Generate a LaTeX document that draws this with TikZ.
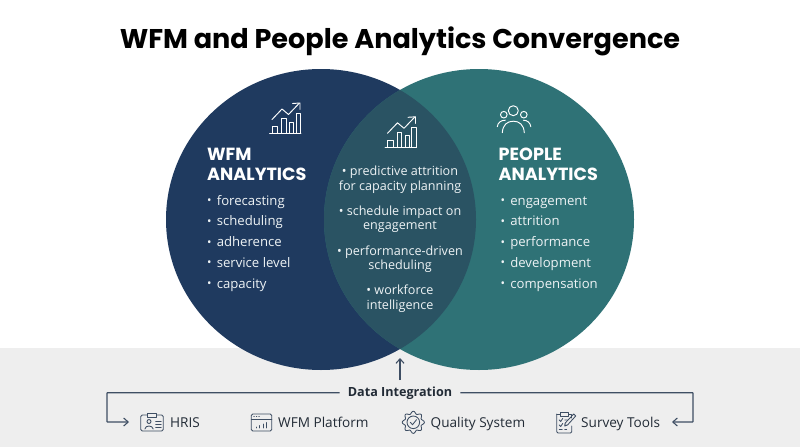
\documentclass[tikz,border=0pt]{standalone}
\usepackage{fontspec}
\usetikzlibrary{arrows.meta}
\setmainfont{Open Sans}
\newfontfamily\headfont{Poppins}
\definecolor{navy}{HTML}{1F3A5F}
\definecolor{teal}{HTML}{2F7276}
\definecolor{lens}{HTML}{2A5363}
\definecolor{band}{HTML}{EEEEEE}
\definecolor{linec}{HTML}{3E4E63}
\definecolor{inkc}{HTML}{222B36}
\definecolor{txtw}{HTML}{EEF3F5}
\newcommand{\bul}[1]{\hbox to 9.6pt{\raisebox{0.6pt}{\scalebox{0.9}{•}}\hss}#1}
\tikzset{
  titletext/.style={anchor=base,inner sep=0,font=\headfont\bfseries\fontsize{27.1}{30}\selectfont,text=black},
  headtext/.style={anchor=base west,inner sep=0,font=\headfont\bfseries\fontsize{17.6}{20}\selectfont,text=white},
  item/.style={anchor=base west,inner sep=0,font=\fontsize{13.15}{16}\selectfont,text=txtw},
  mid/.style={anchor=base,inner sep=0,font=\fontsize{12.6}{16}\selectfont,text=txtw},
  src/.style={anchor=base west,inner sep=0,font=\fontsize{13.6}{16}\selectfont,text=inkc},
  datalabel/.style={anchor=base,inner sep=0,font=\bfseries\fontsize{12.6}{15}\selectfont,text=inkc,fill=band,inner xsep=8pt,inner ysep=2pt},
  wire/.style={draw=linec,line width=1.1pt},
  tip/.style={-{Straight Barb[length=4.5pt,width=8pt]}},
  icn/.style={draw=white,line width=0.95pt,line cap=round,line join=round},
  srcicon/.style={draw=linec,line width=0.85pt,line join=round,line cap=round},
  trendicon/.pic={
    \draw[icn] (0,0) -- (31.5,0);
    \draw[icn] (2.5,0) |- (8,-7) -- (8,0);
    \draw[icn] (12,0) |- (16.5,-15) -- (16.5,0);
    \draw[icn] (20,0) |- (24,-11.5) -- (24,0);
    \draw[icn] (26.5,0) |- (31,-20) -- (31,0);
    \draw[icn] (2.5,-14) -- (12.5,-24.5) -- (19,-19) -- (29.5,-30);
    \draw[icn] (23,-30) -- (30.5,-30.5) -- (30.5,-24);
  },
  peopleicon/.pic={
    \draw[icn] (0,0) circle (5);
    \draw[icn] (-9.5,4) circle (3.3);
    \draw[icn] (10.5,4) circle (3.3);
    \draw[icn] (-11,22) .. controls (-10.5,14) and (-6,10.5) .. (0,10.5) .. controls (6,10.5) and (10.5,14) .. (11,22);
    \draw[icn] (-16,16) .. controls (-15.5,12) and (-12.5,9.5) .. (-8,9.5);
    \draw[icn] (17.5,16) .. controls (17,12) and (14,9.5) .. (10,9.5);
  },
  hrisicon/.pic={
    \draw[srcicon,rounded corners=1.5pt] (0,-8) rectangle (22.5,8);
    \draw[srcicon,fill=band] (6.5,-9.5) rectangle (16,-5.5);
    \draw[srcicon] (8.3,-1.5) circle (2);
    \draw[srcicon] (4.2,6) .. controls (4.5,2) and (12,2) .. (12.5,6);
    \draw[srcicon] (15,-1.5) -- (20.5,-1.5) (15,1.5) -- (20.5,1.5) (15,4.5) -- (20.5,4.5);
  },
  platformicon/.pic={
    \draw[srcicon,rounded corners=1.5pt] (0,-8.5) rectangle (20.5,8.5);
    \draw[srcicon] (0,-3.2) -- (20.5,-3.2);
    \draw[srcicon] (2.5,-6) -- (3,-6) (5,-6) -- (5.5,-6) (7.5,-6) -- (8,-6);
    \draw[srcicon] (5,5.5) -- (5,4.5) (8.5,5.5) -- (8.5,3) (12,5.5) -- (12,1.5) (15.5,5.5) -- (15.5,0);
  },
  gearicon/.pic={
    \draw[srcicon] plot[smooth cycle,samples=72,domain=0:355,variable=\t] ({(9.8+1.3*cos(8*\t))*cos(\t)},{(9.8+1.3*cos(8*\t))*sin(\t)});
    \draw[srcicon] (0,0) circle (6.3);
    \draw[srcicon] (-3,0) -- (-0.8,2.4) -- (3.2,-2.6);
  },
  clipicon/.pic={
    \draw[srcicon,rounded corners=1.2pt] (0,-9) -- (0,10) -- (15,10) -- (15,3);
    \draw[srcicon] (15,-5) -- (15,-9) -- (0,-9);
    \draw[srcicon,fill=band] (4,-11) rectangle (11.5,-7);
    \draw[srcicon] (2.5,-3) -- (4,-1.5) -- (6,-4.5) (8,-3) -- (10.5,-3);
    \draw[srcicon] (2.5,2) -- (4,3.5) -- (6,0.5) (8,2) -- (9.5,2);
    \draw[srcicon] (2.5,6.5) -- (5.5,6.5) (8,6.5) -- (10,6.5);
    \draw[srcicon] (8,3) -- (8.5,0) -- (17,-9) -- (19,-7) -- (10.8,2) -- cycle;
  },
}
\begin{document}
\begin{tikzpicture}[x=1pt,y=-1pt]
\useasboundingbox (0,0) rectangle (800,447);
\fill[white] (0,0) rectangle (800,447);
\fill[band] (0,348) rectangle (800,447);
\fill[navy] (321,219.5) ellipse [x radius=155,y radius=150.5];
\fill[teal] (479,219.5) ellipse [x radius=155,y radius=150.5];
\begin{scope}
  \clip (321,219.5) ellipse [x radius=155,y radius=150.5];
  \fill[lens] (479,219.5) ellipse [x radius=155,y radius=150.5];
\end{scope}

\node[titletext] (title) at (400,48.5) {WFM and People Analytics Convergence};

\pic at (269.5,133.5) {trendicon};
\pic at (385,147.3) {trendicon};
\pic at (513.3,110.7) {peopleicon};

\node[headtext] (wfmA) at (207,160.5) {WFM};
\node[headtext] (wfmB) at (207,180.5) {ANALYTICS};
\node[item] (w1) at (207,205) {\bul{forecasting}};
\node[item] (w2) at (207,225.8) {\bul{scheduling}};
\node[item] (w3) at (207,246.6) {\bul{adherence}};
\node[item] (w4) at (207,267.4) {\bul{service level}};
\node[item] (w5) at (207,288.2) {\bul{capacity}};

\node[headtext] (peoA) at (498.5,160.5) {PEOPLE};
\node[headtext] (peoB) at (498.5,180.5) {ANALYTICS};
\node[item] (p1) at (500.5,205) {\bul{engagement}};
\node[item] (p2) at (500.5,225.8) {\bul{attrition}};
\node[item] (p3) at (500.5,246.6) {\bul{performance}};
\node[item] (p4) at (500.5,267.4) {\bul{development}};
\node[item] (p5) at (500.5,288.2) {\bul{compensation}};

\node[mid] (m1) at (400,175) {• predictive attrition};
\node[mid] (m2) at (400,190) {for capacity planning};
\node[mid] (m3) at (400,215) {• schedule impact on};
\node[mid] (m4) at (400,229.5) {engagement};
\node[mid] (m5) at (400,255) {• performance-driven};
\node[mid] (m6) at (400,269) {scheduling};
\node[mid] (m7) at (400,294) {• workforce};
\node[mid] (m8) at (400,309) {intelligence};

\node[datalabel] (data) at (400,396) {Data Integration};
\coordinate (up) at (400,358);
\coordinate (cornerL) at (107,391);
\coordinate (cornerR) at (693,391);
\coordinate (endL) at (129,422);
\coordinate (endR) at (672,422);
\draw[wire,tip,shorten <=4pt] (data.north) -- (up);
\draw[wire,tip,rounded corners=0.5pt] (data.west) -- (data.west -| cornerL) -- (cornerL |- endL) -- (endL);
\draw[wire,tip,rounded corners=0.5pt] (data.east) -- (data.east -| cornerR) -- (cornerR |- endR) -- (endR);

\pic at (140.7,423) {hrisicon};
\node[src] (s1) at (170,427) {HRIS};
\pic at (251.3,422.5) {platformicon};
\node[src] (s2) at (278,427) {WFM Platform};
\pic at (413.3,422.3) {gearicon};
\node[src] (s3) at (430.5,427) {Quality System};
\pic at (556.7,423) {clipicon};
\node[src] (s4) at (581,427) {Survey Tools};
\end{tikzpicture}
\end{document}
